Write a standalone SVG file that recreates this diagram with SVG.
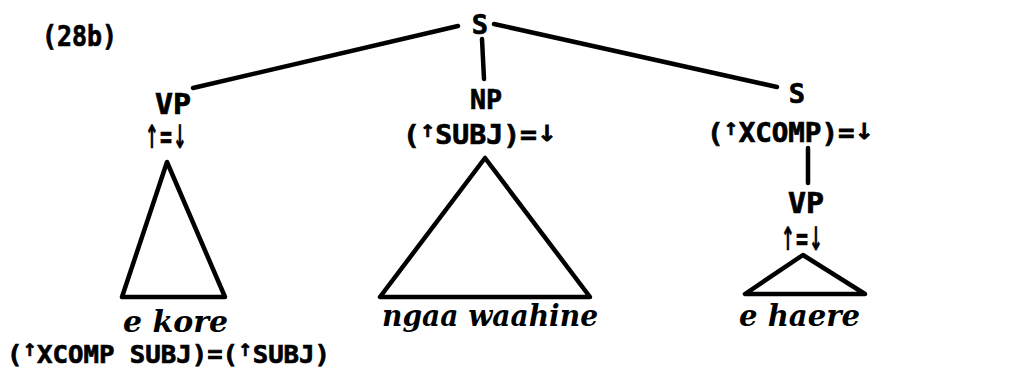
<svg xmlns="http://www.w3.org/2000/svg" width="1034" height="374" viewBox="0 0 1034 374">
<style>
.lbl{font-family:"DejaVu Sans Mono","Liberation Mono",monospace;font-weight:bold;fill:#000;stroke:#000;stroke-width:0.7}
.eq{font-family:"DejaVu Sans",sans-serif;font-weight:bold;fill:#000;stroke:#000;stroke-width:0.6}
.it{font-family:"DejaVu Serif","Liberation Serif",serif;font-style:italic;font-weight:bold;fill:#000}
.edge{stroke:#000;stroke-width:4.5;stroke-linecap:round;fill:none}
.tri{stroke:#000;stroke-width:4.5;stroke-linejoin:round;fill:none}
.up{font-family:"DejaVu Sans",sans-serif;font-size:17px}
.dn{font-family:"DejaVu Sans",sans-serif;font-size:22px}
</style>
<rect width="1034" height="374" fill="#fff"/>
<text class="lbl" x="42" y="46" font-size="28" textLength="75" lengthAdjust="spacingAndGlyphs">(28b)</text>
<g id="connectors">
<line class="edge" x1="458" y1="26" x2="193" y2="88"/>
<line class="edge" x1="482" y1="39" x2="484" y2="79"/>
<line class="edge" x1="494" y1="24" x2="777" y2="87"/>
<line class="edge" x1="808" y1="148" x2="808" y2="183"/>
</g>
<g id="node-S-top">
<text class="lbl" x="480" y="34" font-size="27" text-anchor="middle">S</text>
</g>
<g id="node-VP-left">
<text class="lbl" x="155" y="114" font-size="28" textLength="36" lengthAdjust="spacingAndGlyphs">VP</text>
<text class="eq" x="145" y="148" font-size="32" textLength="42" lengthAdjust="spacingAndGlyphs">↑=↓</text>
<polygon class="tri" points="167,162 122,297 225,297"/>
<text class="it" x="123" y="332" font-size="30" textLength="105" lengthAdjust="spacingAndGlyphs">e kore</text>
<text class="lbl" x="7" y="363" font-size="25" textLength="323" lengthAdjust="spacingAndGlyphs">(<tspan class="up" dy="-7">↑</tspan><tspan dy="7">XCOMP SUBJ)=(</tspan><tspan class="up" dy="-7">↑</tspan><tspan dy="7">SUBJ)</tspan></text>
</g>
<g id="node-NP">
<text class="lbl" x="470" y="109" font-size="27" textLength="32" lengthAdjust="spacingAndGlyphs">NP</text>
<text class="lbl" x="403" y="144" font-size="26" textLength="154" lengthAdjust="spacingAndGlyphs">(<tspan class="up" dy="-7">↑</tspan><tspan dy="7">SUBJ)=</tspan><tspan class="dn" dy="-3">↓</tspan></text>
<polygon class="tri" points="485,158 380,297 590,297"/>
<text class="it" x="382" y="326" font-size="30" textLength="216" lengthAdjust="spacingAndGlyphs">ngaa waahine</text>
</g>
<g id="node-S-right">
<text class="lbl" x="797" y="103" font-size="27" text-anchor="middle">S</text>
<text class="lbl" x="707" y="142" font-size="26" textLength="167" lengthAdjust="spacingAndGlyphs">(<tspan class="up" dy="-7">↑</tspan><tspan dy="7">XCOMP)=</tspan><tspan class="dn" dy="-3">↓</tspan></text>
</g>
<g id="node-VP-right">
<text class="lbl" x="788" y="213" font-size="28" textLength="36" lengthAdjust="spacingAndGlyphs">VP</text>
<text class="eq" x="781" y="250" font-size="32" textLength="42" lengthAdjust="spacingAndGlyphs">↑=↓</text>
<polygon class="tri" points="803,255 745,294 865,294"/>
<text class="it" x="739" y="326" font-size="30" textLength="121" lengthAdjust="spacingAndGlyphs">e haere</text>
</g>
</svg>
